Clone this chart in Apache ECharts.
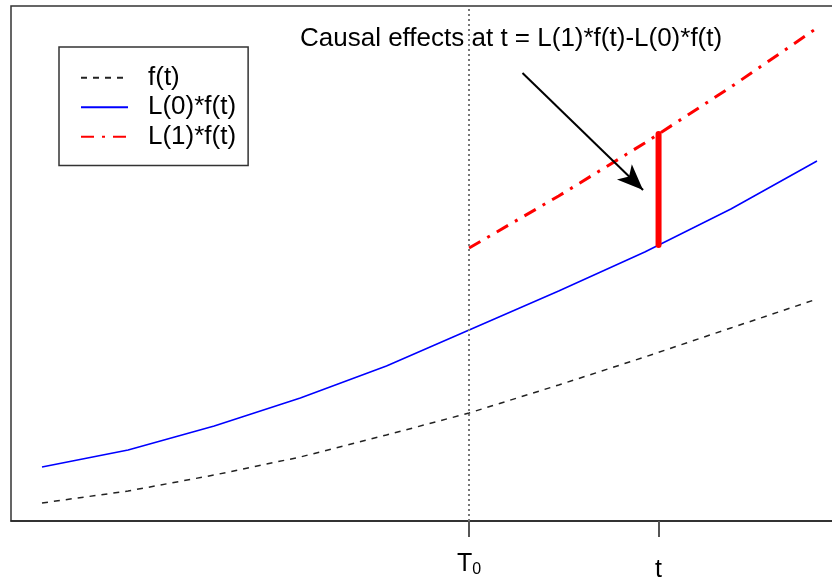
<!DOCTYPE html>
<html>
<head>
<meta charset="utf-8">
<script src="https://cdn.jsdelivr.net/npm/echarts@6/dist/echarts.min.js"></script>
<style>
html, body { margin: 0; padding: 0; background: #fff; }
#main { width: 832px; height: 583px; }
</style>
</head>
<body>
<div id="main"></div>
<script>
// time points and curves (arbitrary units)
var times = [0, 1, 2, 3, 4, 4.96, 6, 7, 8, 9];
var fValues = [0.18, 0.30, 0.46, 0.64, 0.86, 1.08, 1.36, 1.64, 1.93, 2.22];
var l0Values = [0.54, 0.71, 0.95, 1.23, 1.55, 1.91, 2.30, 2.69, 3.12, 3.60];
var l1Times = [4.96, 6, 7, 8, 9];
var l1Values = [2.73, 3.25, 3.78, 4.34, 4.93];

// T0 and t on the time axis
var t0 = 4.96;
var tPoint = 7.16;
var effectLow = 2.76;
var effectHigh = 3.87;

// annotation arrow (data units)
var arrowFrom = [5.58, 4.48];
var arrowTo = [6.98, 3.31];

var seriesNames = ['f(t)', 'L(0)*f(t)', 'L(1)*f(t)'];
var note = 'Causal effects at t = L(1)*f(t)-L(0)*f(t)';

function pairs(xs, ys) {
    return xs.map(function (x, i) { return [x, ys[i]]; });
}

var font = "'Liberation Sans', Arial, sans-serif";
var chart = echarts.init(document.getElementById('main'));

var option = {
    animation: false,
    backgroundColor: '#fff',
    title: {
        text: note,
        left: 300,
        top: 26,
        padding: 0,
        textStyle: { fontFamily: font, fontSize: 26, fontWeight: 'normal', color: '#000' }
    },
    legend: {
        data: seriesNames,
        orient: 'vertical',
        left: 59,
        top: 47,
        padding: [16, 12, 14, 21],
        itemGap: 0,
        itemWidth: 47,
        itemHeight: 14,
        borderColor: '#333',
        borderWidth: 1.5,
        itemStyle: { opacity: 0 },
        textStyle: { fontFamily: font, fontSize: 26, color: '#000', lineHeight: 29.5, padding: [0, 0, 0, 15] }
    },
    grid: {
        show: true,
        outerBoundsMode: 'none',
        containLabel: false,
        left: 11,
        top: 6,
        width: 837,
        height: 515,
        borderColor: '#333',
        borderWidth: 1.5
    },
    xAxis: {
        type: 'value',
        min: -0.36,
        max: 9.36,
        splitLine: { show: false },
        axisLine: { show: true, lineStyle: { color: '#222', width: 1.5 } },
        axisTick: {
            show: true,
            customValues: [t0, tPoint],
            length: 16,
            lineStyle: { color: '#555', width: 2 }
        },
        axisLabel: {
            customValues: [t0, tPoint],
            margin: 29,
            formatter: function (v) {
                return v === t0 ? '{T|T}{s|0}' : '{t|t}';
            },
            rich: {
                T: { fontFamily: font, fontSize: 25, color: '#000' },
                s: { fontFamily: font, fontSize: 16, color: '#000', padding: [12, 0, 0, 0] },
                t: { fontFamily: font, fontSize: 25, color: '#000', padding: [8, 0, 0, 0] }
            }
        }
    },
    yAxis: {
        type: 'value',
        min: 0,
        max: 5.15,
        show: false
    },
    series: [
        {
            name: seriesNames[0],
            type: 'line',
            data: pairs(times, fValues),
            symbol: 'none',
            lineStyle: { color: '#222', width: 1.5, type: [6, 6] },
            itemStyle: { color: '#222' },
            markLine: {
                silent: true,
                symbol: 'none',
                label: { show: false },
                lineStyle: { color: '#777', width: 2, type: [2, 3] },
                data: [{ xAxis: t0 }]
            }
        },
        {
            name: seriesNames[1],
            type: 'line',
            data: pairs(times, l0Values),
            symbol: 'none',
            lineStyle: { color: '#0000ff', width: 1.5 },
            itemStyle: { color: '#0000ff' }
        },
        {
            name: seriesNames[2],
            type: 'line',
            data: pairs(l1Times, l1Values),
            symbol: 'none',
            lineStyle: { color: '#ff0000', width: 3, type: [13, 8, 3, 8] },
            itemStyle: { color: '#ff0000' }
        },
        {
            name: 'effect',
            type: 'line',
            data: [[tPoint, effectLow], [tPoint, effectHigh]],
            symbol: 'none',
            lineStyle: { color: '#ff0000', width: 6, cap: 'round' },
            markLine: {
                silent: true,
                symbol: ['none', 'arrow'],
                symbolSize: [16, 26],
                label: { show: false },
                lineStyle: { color: '#000', width: 2, type: 'solid' },
                data: [[{ coord: arrowFrom }, { coord: arrowTo }]]
            }
        }
    ]
};

chart.setOption(option);
</script>
</body>
</html>
